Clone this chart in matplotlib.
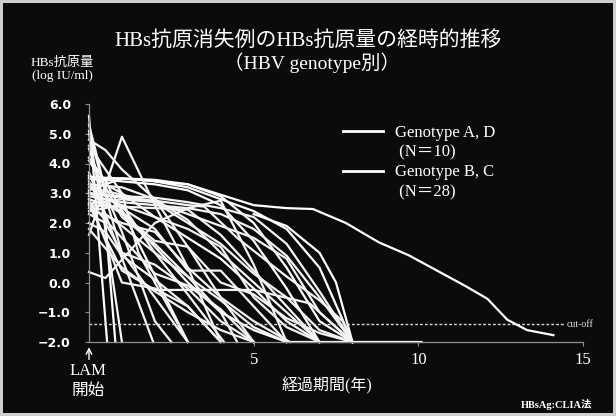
import matplotlib.pyplot as plt
import numpy as np
from matplotlib.lines import Line2D

# HBs抗原量 (log IU/ml) の推移, LAM開始からの年数
ad_years = [
    [0, 1.6, 3, 4, 5, 6, 6.8, 7.8, 8.8, 9.7, 10.4, 11.4, 12.1, 12.7, 13.3, 14.1],
    [0, 0.55],
    [0, 0.5, 1.2, 3],
    [0, 1, 2, 3, 4, 5, 6, 7],
    [0, 1, 2, 3, 4, 5, 6, 7, 8],
    [5, 6, 7, 7.5, 8],
    [0, 1, 2, 3, 4, 5, 6, 10.1],
    [0, 1, 2, 3, 4, 5, 6, 7, 8],
    [0, 0.3, 0.5, 0.8],
    [0, 1, 2, 3, 4, 5, 6, 7],
]
ad_levels = [
    [3.55, 3.45, 3.3, 2.95, 2.6, 2.5, 2.47, 2.0, 1.35, 0.92, 0.5, -0.1, -0.55, -1.25, -1.6, -1.77],
    [5.6, -2.0],
    [4.2, 3.4, 2.0, -2.0],
    [3.5, 3.4, 3.3, 3.1, 2.6, 1.4, -0.2, -2.0],
    [3.1, 3.5, 3.4, 3.2, 2.8, 2.4, 1.8, 0.5, -2.0],
    [2.3, 1.9, 1.0, 0.0, -2.0],
    [2.8, 2.4, 1.2, 0.0, -1.0, -1.6, -2.0, -2.0],
    [3.5, 3.5, 3.45, 3.3, 2.9, 2.0, 0.5, -1.3, -2.0],
    [4.5, 3.5, 2.0, -2.0],
    [3.6, 3.0, 2.2, 1.5, 0.8, -0.2, -1.3, -2.0],
]

bc_years = [
    [0, 0.4, 1.0],
    [0, 0.6, 1.95],
    [0, 1, 2, 3, 4.1],
    [0, 1, 2, 3, 4, 5],
    [0, 1, 2, 3, 4, 5, 6.1],
    [0, 1, 2, 3, 4, 5, 6, 7],
    [0, 1, 2, 3, 4, 5, 6, 7, 8],
    [0, 1, 2, 3, 4, 5, 6, 7, 8],
    [0, 1, 2, 5, 6.7, 8],
    [0, 1, 2, 3, 4, 5, 6],
    [0, 0.5, 1, 2, 3, 4, 5],
    [0, 1, 2, 3, 4],
    [0, 0.5, 2, 3, 4, 5, 6],
    [0, 1, 2, 3, 4, 5, 6, 7],
    [0, 0.3, 0.6, 1, 2, 3],
    [0, 0.5, 1, 2, 3, 4, 5, 6],
    [0, 0.5, 1, 2, 3, 4, 5],
    [0, 1, 2, 3, 4, 5, 6, 7, 7.5, 8],
    [0, 1, 2, 3, 4, 5, 6, 7, 8],
    [0, 0.5, 1, 2, 3, 4, 4.5],
    [0, 0.5, 1, 2, 3, 4],
    [0, 1, 2, 3, 3.5, 4.5, 6, 7, 7.7, 8],
    [0, 1, 2, 3, 4],
    [0, 0.5, 1, 1.5, 2, 2.5],
    [0, 1, 2, 3, 4, 5, 6, 7],
    [0, 1, 2, 3, 4, 5, 6, 7, 8],
    [0, 1, 2, 3, 4, 5],
    [0, 0.5, 1, 1.5, 2.5, 3],
]
bc_levels = [
    [5.0, 2.5, -2.0],
    [3.7, 2.0, -2.0],
    [3.0, 2.6, 1.0, -0.4, -2.0],
    [2.7, 1.5, 0.3, -0.1, -0.9, -2.0],
    [2.5, 2.0, 1.7, 0.5, -0.5, -1.3, -2.0],
    [3.3, 3.2, 2.8, 2.1, 1.0, 0.0, -1.0, -2.0],
    [2.9, 2.7, 2.6, 2.5, 2.3, 1.8, 0.9, -0.5, -2.0],
    [3.0, 2.9, 2.85, 2.7, 2.5, 2.2, 1.3, -0.3, -2.0],
    [2.6, 0.4, -0.25, -0.25, -0.7, -2.0],
    [3.3, 2.5, 1.8, 0.4, 0.4, -0.8, -2.0],
    [4.8, 4.45, 3.8, 2.8, 1.2, -0.5, -2.0],
    [1.6, 4.9, 2.6, 0.5, -2.0],
    [0.35, 0.15, 2.0, 2.5, 2.75, 0.6, -2.0],
    [2.4, 2.6, 2.2, 1.8, 1.2, -0.5, -1.5, -2.0],
    [5.3, 4.0, 2.5, 1.0, -0.5, -2.0],
    [3.4, 2.3, 1.9, 1.0, 0.2, -0.6, -1.5, -2.0],
    [2.3, 2.0, 1.0, 0.6, -0.2, -1.3, -2.0],
    [2.65, 2.8, 2.7, 2.3, 1.9, 1.5, 0.8, -1.0, -1.5, -2.0],
    [3.2, 2.95, 2.7, 2.0, 1.3, 0.3, -0.5, -1.6, -2.0],
    [4.1, 3.2, 2.2, 1.3, 0.2, -1.0, -2.0],
    [2.0, 1.7, 0.9, 0.1, -0.8, -2.0],
    [3.0, 2.85, 2.75, 2.6, 2.55, 1.5, 0.2, -0.6, -1.3, -2.0],
    [2.8, 0.0, -0.2, -0.8, -2.0],
    [5.1, 3.0, 1.7, 0.2, -1.3, -2.0],
    [2.6, 2.55, 2.5, 2.45, 1.6, 0.4, -0.8, -2.0],
    [3.05, 2.3, 1.4, 1.2, 0.0, -0.4, -1.2, -1.7, -2.0],
    [1.8, 0.5, -0.3, -1.0, -1.6, -2.0],
    [4.6, 3.8, 3.0, 1.0, -1.0, -2.0],
]

legend_labels = ['Genotype A, D', ' (N＝10)', 'Genotype B, C', ' (N＝28)']
y_ticks = [-2, -1, 0, 1, 2, 3, 4, 5, 6]
y_tick_labels = ['−2.0', '−1.0', '0.0', '1.0', '2.0', '3.0', '4.0', '5.0', '6.0']
x_ticks = [5, 10, 15]
cutoff = -1.4

bg = '#0b0b0b'
serif_jp = ['Liberation Serif', 'Noto Sans CJK JP']

fig = plt.figure(figsize=(6.16, 4.16), dpi=100, facecolor=bg)
fig.patch.set_edgecolor('#cfcfcf')
fig.patch.set_linewidth(3)
ax = fig.add_axes([89 / 616, 1 - 342 / 416, 494 / 616, 238 / 416])
ax.set_facecolor(bg)

for t, v in zip(ad_years, ad_levels):
    ax.plot(t, v, color='white', lw=1.6, clip_on=False, solid_joinstyle='round')
for t, v in zip(bc_years, bc_levels):
    ax.plot(t, v, color='#f4f4f4', lw=1.6, clip_on=False, solid_joinstyle='round')

# カットオフ
ax.hlines(cutoff, 0, 14.45, colors='#d8d8d8', lw=1, linestyles=(0, (2, 1.5)))
ax.text(14.5, cutoff, 'cut-off', color='#e0e0e0', fontsize=7, family=serif_jp,
        va='center', ha='left', clip_on=False)

ax.set_xlim(0, 15)
ax.set_ylim(-2, 6)
for side in ['top', 'right']:
    ax.spines[side].set_visible(False)
for side in ['left', 'bottom']:
    ax.spines[side].set_color('#8f8f8f')
    ax.spines[side].set_linewidth(0.9)

ax.set_yticks(y_ticks)
ax.set_yticklabels(y_tick_labels, fontsize=9, fontweight='bold', color='white', family='DejaVu Sans')
ax.set_xticks(x_ticks)
ax.set_xticklabels([str(v) for v in x_ticks], fontsize=12, color='white', family=serif_jp)
ax.tick_params(axis='y', colors='#8f8f8f', length=3, pad=10, labelcolor='white')
ax.tick_params(axis='x', colors='#8f8f8f', length=3, pad=4, labelcolor='white')

# LAM開始の矢印
ax.annotate('', xy=(0, -0.01), xytext=(0, -0.085), xycoords=('data', 'axes fraction'),
            arrowprops=dict(arrowstyle='->', color='white', lw=1))
fig.text(88 / 616, 1 - 371 / 416, 'LAM', color='white', fontsize=12, family=serif_jp, ha='center', va='center')
fig.text(88 / 616, 1 - 391 / 416, '開始', color='white', fontsize=12, family=serif_jp, ha='center', va='center')

# タイトルと軸ラベル
fig.text(0.5, 1 - 41 / 416, 'HBs抗原消失例のHBs抗原量の経時的推移', color='white', fontsize=15,
         family=serif_jp, ha='center', va='center')
fig.text(312 / 616, 1 - 63 / 416, '（HBV genotype別）', color='white', fontsize=14,
         family=serif_jp, ha='center', va='center')
fig.text(62 / 616, 1 - 63 / 416, 'HBs抗原量', color='white', fontsize=9.5, family=serif_jp, ha='center', va='center')
fig.text(62 / 616, 1 - 76 / 416, '(log IU/ml)', color='white', fontsize=9.5, family=serif_jp, ha='center', va='center')
fig.text(327 / 616, 1 - 386 / 416, '経過期間(年)', color='white', fontsize=11.5, family=serif_jp, ha='center', va='center')
fig.text(592 / 616, 1 - 404 / 416, 'HBsAg:CLIA法', color='white', fontsize=7.5, fontweight='bold',
         family=serif_jp, ha='right', va='center')

handles = [Line2D([], [], color='white', lw=2), Line2D([], [], color='none'),
           Line2D([], [], color='white', lw=2), Line2D([], [], color='none')]
ax.legend(handles, legend_labels, loc='upper left', bbox_to_anchor=(343 / 616, 1 - 125 / 416),
          bbox_transform=fig.transFigure, frameon=False, handlelength=2.4, handletextpad=0.7,
          labelspacing=0.22, borderpad=0, borderaxespad=0, labelcolor='white',
          prop={'family': serif_jp, 'size': 12})

plt.savefig('out.png', dpi=100, facecolor=bg, edgecolor=fig.get_edgecolor())
